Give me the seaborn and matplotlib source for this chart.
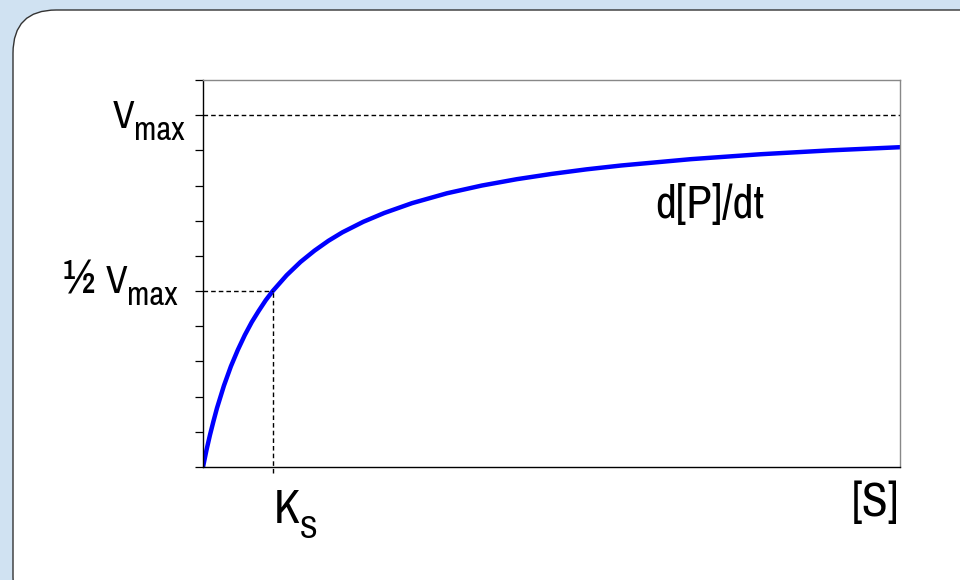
import matplotlib
matplotlib.use("Agg")
import matplotlib.pyplot as plt
import seaborn as sns
import pandas as pd
from matplotlib.patches import FancyBboxPatch

# Data (substrate concentration vs. rate, vmax = 10, Ks = 10)
substrate = [0, 0.5, 1, 1.5, 2, 3, 4, 5, 6, 7, 8, 9, 10, 12, 14, 16, 18, 20, 23, 26, 30,
             35, 40, 45, 50, 55, 60, 70, 80, 90, 100]
rate = [0, 0.48, 0.91, 1.30, 1.67, 2.31, 2.86, 3.33, 3.75, 4.12, 4.44, 4.74, 5.0, 5.45,
        5.83, 6.15, 6.43, 6.67, 6.97, 7.22, 7.5, 7.78, 8.0, 8.18, 8.33, 8.46, 8.57,
        8.75, 8.89, 9.0, 9.09]
vmax = 10
half_vmax = 5
ks = 10
y_ticks = list(range(0, 12))

sns.set_theme(style="white")
FAMILY = ["Liberation Sans Narrow", "Arial Narrow", "Pragati Narrow", "Archivo Narrow",
          "PT Sans Narrow", "Roboto Condensed", "Sofia Sans Condensed",
          "Sofia Sans Semi Condensed", "Liberation Sans", "DejaVu Sans"]
plt.rcParams["font.family"] = FAMILY
plt.rcParams["text.color"] = "black"

W, H = 960, 580
fig = plt.figure(figsize=(W / 100, H / 100), dpi=100)
fig.patch.set_facecolor("#d0e2f2")

box = FancyBboxPatch((13 / W, (H - 620) / H), 1000 / W, 610 / H,
                     boxstyle="round,pad=0,rounding_size=0.045",
                     transform=fig.transFigure, facecolor="white",
                     edgecolor="#333333", linewidth=1.0, mutation_aspect=W / H,
                     zorder=-10)
fig.patches.append(box)

ax = fig.add_axes([203 / W, 1 - 467 / H, (900 - 203) / W, (467 - 80) / H])
ax.set_facecolor("none")
ax.set_zorder(5)

df = pd.DataFrame({"S": substrate, "v": rate})
sns.lineplot(data=df, x="S", y="v", ax=ax, color="#0000ff", linewidth=3.2)

ax.set_xlim(0, 100)
ax.set_ylim(0, 11)

dash = (0, (3.3, 2.2))
ax.plot([0, 100], [vmax, vmax], ls=dash, color="black", lw=1.0)
ax.plot([0, ks], [half_vmax, half_vmax], ls=dash, color="black", lw=1.0)
ax.plot([ks, ks], [-0.17, half_vmax], ls=dash, color="black", lw=1.0, clip_on=False)

ax.set_yticks(y_ticks)
ax.set_yticklabels([])
ax.set_xticks([])
ax.tick_params(axis="y", direction="out", length=6, width=0.9, color="black", left=True)
ax.set_xlabel("")
ax.set_ylabel("")

for s in ["left", "bottom"]:
    ax.spines[s].set_color("black")
    ax.spines[s].set_linewidth(1.0)
for s in ["top", "right"]:
    ax.spines[s].set_color("#888888")
    ax.spines[s].set_linewidth(1.0)


def put(txt, x_left, y_base, size):
    fig.text(x_left / W, 1 - y_base / H, txt, ha="left", va="baseline",
             fontsize=size, color="black", family=FAMILY)


put("V", 113, 128, 31)
put("max", 134, 140, 25.5)
put("½", 63, 293, 38)
put("V", 106, 293, 31)
put("max", 127, 305, 25.5)
put("K", 274, 523, 37)
put("S", 300, 538, 25)
put("[S]", 852, 516, 37)
put("d[P]/dt", 655, 218, 36)

fig.savefig("out.png", dpi=100, facecolor=fig.get_facecolor())
